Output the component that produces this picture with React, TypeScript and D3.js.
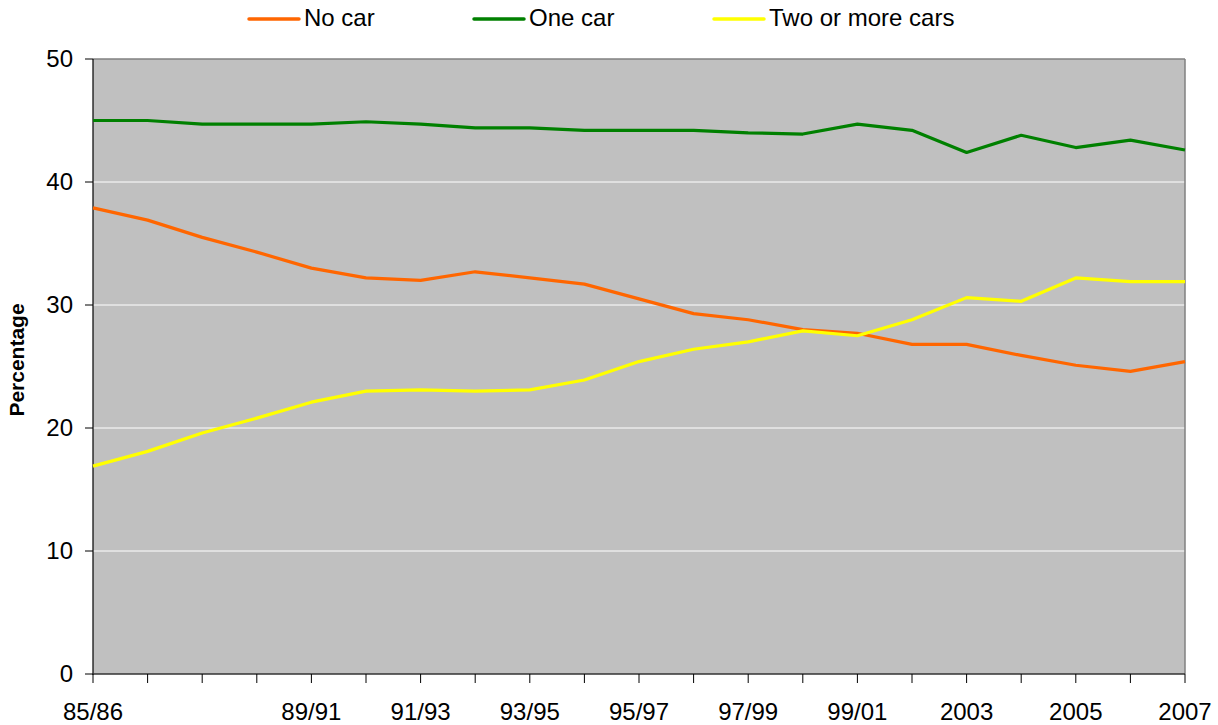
import React from "react";
import * as d3 from "d3";

const categories = [
  "85/86", "86/87", "87/88", "88/89", "89/91", "90/92", "91/93", "92/94", "93/95", "94/96",
  "95/97", "96/98", "97/99", "98/00", "99/01", "2002", "2003", "2004", "2005", "2006", "2007",
];
const tickLabels = [
  "85/86", "", "", "", "89/91", "", "91/93", "", "93/95", "",
  "95/97", "", "97/99", "", "99/01", "", "2003", "", "2005", "", "2007",
];
const noCar = [
  37.9, 36.9, 35.5, 34.3, 33.0, 32.2, 32.0, 32.7, 32.2, 31.7,
  30.5, 29.3, 28.8, 28.0, 27.7, 26.8, 26.8, 25.9, 25.1, 24.6, 25.4,
];
const oneCar = [
  45.0, 45.0, 44.7, 44.7, 44.7, 44.9, 44.7, 44.4, 44.4, 44.2,
  44.2, 44.2, 44.0, 43.9, 44.7, 44.2, 42.4, 43.8, 42.8, 43.4, 42.6,
];
const twoOrMore = [
  16.9, 18.1, 19.6, 20.8, 22.1, 23.0, 23.1, 23.0, 23.1, 23.9,
  25.4, 26.4, 27.0, 27.9, 27.5, 28.8, 30.6, 30.3, 32.2, 31.9, 31.9,
];
const yTicks = [0, 10, 20, 30, 40, 50];
const seriesNames = ["No car", "One car", "Two or more cars"];
const seriesColors = ["#FF6600", "#008000", "#FFFF00"];

const W = 1218;
const H = 725;
const left = 93;
const right = 1185;
const top = 59;
const bottom = 674;
const font = "'Liberation Sans', Arial, sans-serif";

export default function App() {
  const x = d3.scalePoint<string>().domain(categories).range([left, right]);
  const y = d3.scaleLinear().domain([0, 50]).range([bottom, top]);
  const line = d3
    .line<number>()
    .x((_, i) => x(categories[i]) as number)
    .y((d) => y(d));
  const series = [noCar, oneCar, twoOrMore];
  const legendX = [249, 474, 714];

  return (
    <svg
      width={W}
      height={H}
      style={{ position: "absolute", left: 0, top: 0, background: "#fff" }}
      fontFamily={font}
    >
      <rect x={left} y={top} width={right - left} height={bottom - top} fill="#C0C0C0" />
      {yTicks.filter((t) => t > 0 && t < 50).map((t) => (
        <line key={t} x1={left} x2={right} y1={y(t)} y2={y(t)} stroke="#FFFFFF" strokeWidth={1} />
      ))}
      <line x1={left} x2={right} y1={top} y2={top} stroke="#808080" strokeWidth={1.5} />
      <line x1={right} x2={right} y1={top} y2={bottom} stroke="#808080" strokeWidth={1.5} />
      <line x1={left} x2={left} y1={top} y2={bottom + 1} stroke="#000" strokeWidth={1.2} />
      <line x1={left} x2={right} y1={bottom} y2={bottom} stroke="#333" strokeWidth={1.5} />
      {yTicks.map((t) => (
        <g key={t}>
          <line x1={left - 8} x2={left} y1={y(t)} y2={y(t)} stroke="#000" strokeWidth={1} />
          <text x={73} y={y(t)} dy="0.33em" textAnchor="end" fontSize={24} fill="#000">
            {t}
          </text>
        </g>
      ))}
      {categories.map((c, i) => (
        <g key={c}>
          <line x1={x(c)} x2={x(c)} y1={bottom} y2={bottom + 9} stroke="#000" strokeWidth={1} />
          {tickLabels[i] && (
            <text x={x(c)} y={720} textAnchor="middle" fontSize={24} fill="#000">
              {tickLabels[i]}
            </text>
          )}
        </g>
      ))}
      {series.map((s, i) => (
        <path key={i} d={line(s) || ""} fill="none" stroke={seriesColors[i]} strokeWidth={3.2} strokeLinejoin="round" />
      ))}
      <text
        transform={`translate(24,360) rotate(-90)`}
        textAnchor="middle"
        fontSize={21}
        fontWeight="bold"
        fill="#000"
      >
        Percentage
      </text>
      {seriesNames.map((n, i) => (
        <g key={n}>
          <line x1={legendX[i]} x2={legendX[i] + 50} y1={19} y2={19} stroke={seriesColors[i]} strokeWidth={3.5} strokeLinecap="round" />
          <text x={legendX[i] + 55} y={26} fontSize={24} fill="#000">
            {n}
          </text>
        </g>
      ))}
    </svg>
  );
}
